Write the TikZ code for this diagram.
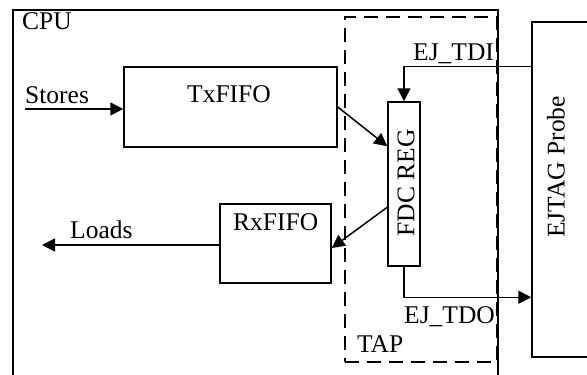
\documentclass[tikz,border=0pt]{standalone}
\usepackage{fontspec}
\setmainfont{Liberation Serif}
\usetikzlibrary{arrows.meta,calc}
\begin{document}
\begin{tikzpicture}[x=1pt,y=-1pt,
  box/.style={draw,line width=1.5pt,inner sep=0pt},
  tapbox/.style={draw,line width=1.5pt,inner sep=0pt,dash pattern=on 14pt off 8pt},
  lbl/.style={inner sep=0pt,anchor=base west,font=\fontsize{25.5}{30}\selectfont},
  rlbl/.style={inner sep=0pt,rotate=90,font=\fontsize{25.5}{30}\selectfont},
  conn/.style={line width=1.5pt,-{Triangle[length=13pt,width=13pt]}}]
\useasboundingbox (0,0) rectangle (587,375);
\clip (0,0) rectangle (587,375);
\fill[white] (0,0) rectangle (587,375);
% boxes
\node[box,minimum width=485pt,minimum height=380pt] (cpu) at (255.5,200) {};
\node[tapbox,minimum width=152pt,minimum height=345pt] (tap) at (421,189.5) {};
\node[box,minimum width=213pt,minimum height=80pt] (tx) at (230.5,107) {};
\node[box,minimum width=111pt,minimum height=79pt] (rx) at (275.5,243.5) {};
\node[box,minimum width=32pt,minimum height=164pt] (fdc) at (404,184) {};
\node[box,minimum width=120pt,minimum height=335pt] (ej) at (592,189.5) {};
% labels
\node[lbl] (lcpu) at (22,29) {CPU};
\node[lbl] (ltx) at (187,102) {TxFIFO};
\node[lbl] (lrx) at (233,230) {RxFIFO};
\node[lbl] (lst) at (25,103) {Stores};
\node[lbl] (lld) at (70,238) {Loads};
\node[lbl] (ltdi) at (413,60) {EJ\_TDI};
\node[lbl] (ltdo) at (404,323) {EJ\_TDO};
\node[lbl] (ltap) at (357,352) {TAP};
\node[rlbl] (lfdc) at (406,183) {FDC REG};
\node[rlbl] (lej) at (556,167) {EJTAG Probe};
% connectors
\coordinate (st) at (25,109);
\coordinate (ld) at (42,245);
\draw[conn] (st) -- (st -| tx.west);
\draw[conn] ([yshift=-1.5pt]rx.west) -- (ld);
\draw[conn] (tx.east) -- ([yshift=-45pt]fdc.north west);
\draw[conn] ([yshift=-106pt]fdc.north west) -- ([yshift=-4.5pt]rx.east);
\draw[conn] ([yshift=-45pt]ej.north west) -| (fdc.north);
\draw[conn] (fdc.south) |- ([yshift=-276pt]ej.north west);
\end{tikzpicture}
\end{document}
